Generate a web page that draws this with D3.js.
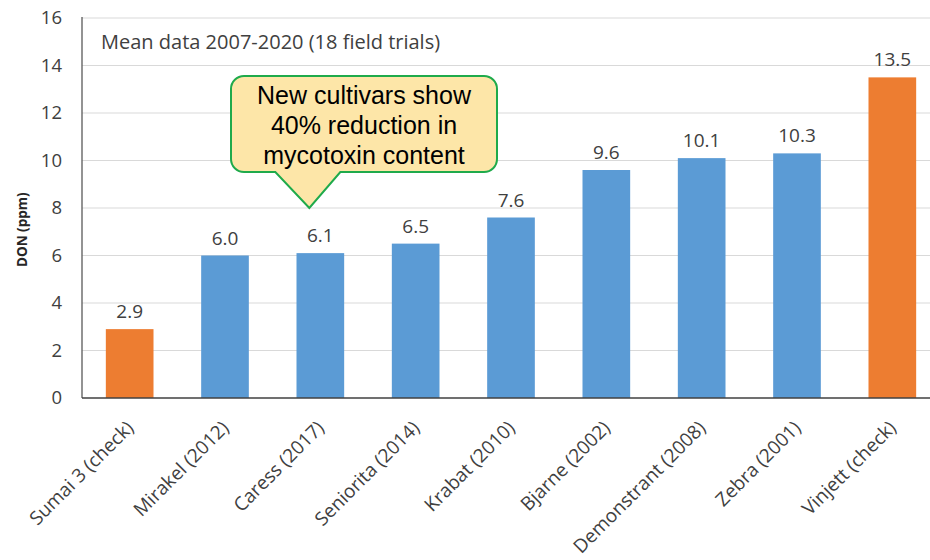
<!DOCTYPE html>
<html>
<head>
<meta charset="utf-8">
<script src="https://cdn.jsdelivr.net/npm/d3@7"></script>
<style>
  html, body { margin: 0; padding: 0; background: #fff; }
  svg { display: block; }
</style>
</head>
<body>
<svg id="chart" width="930" height="560"></svg>
<script>
// Cultivars and mean DON content (ppm), field trials 2007-2020
const cultivars = [
  "Sumai 3 (check)", "Mirakel (2012)", "Caress (2017)", "Seniorita (2014)",
  "Krabat (2010)", "Bjarne (2002)", "Demonstrant (2008)", "Zebra (2001)", "Vinjett (check)"
];
const donValues = [2.9, 6.0, 6.1, 6.5, 7.6, 9.6, 10.1, 10.3, 13.5];
const isCheck = [true, false, false, false, false, false, false, false, true];
const yTicks = [0, 2, 4, 6, 8, 10, 12, 14, 16];
const noteText = "Mean data 2007-2020 (18 field trials)";
const calloutLines = ["New cultivars show", "40% reduction in", "mycotoxin content"];

const data = cultivars.map((c, i) => ({ name: c, value: donValues[i], check: isCheck[i] }));

const svg = d3.select("#chart");
const W = 930, H = 560;
const plot = { left: 82, right: 940, top: 18, bottom: 398 };
const FONT = "'Open Sans', 'DejaVu Sans', sans-serif";
const TEXT = "#404040";

const x = d3.scaleBand()
  .domain(cultivars)
  .range([plot.left, plot.right])
  .paddingInner(0.5)
  .paddingOuter(0.25);

const y = d3.scaleLinear().domain([0, 16]).range([plot.bottom, plot.top]);

// horizontal gridlines
svg.append("g")
  .selectAll("line")
  .data(yTicks.filter(t => t > 0))
  .join("line")
  .attr("x1", plot.left).attr("x2", W)
  .attr("y1", d => y(d)).attr("y2", d => y(d))
  .attr("stroke", "#d9d9d9").attr("stroke-width", 1);

// y axis tick labels
const yAxis = d3.axisLeft(y).tickValues(yTicks).tickSize(0).tickPadding(20).tickFormat(d3.format("d"));
const gy = svg.append("g").attr("transform", `translate(${plot.left},0)`).call(yAxis);
gy.select(".domain").remove();
gy.selectAll("text")
  .attr("font-family", FONT).attr("font-size", 18.5).attr("fill", TEXT);

// y axis title
svg.append("text")
  .attr("transform", `translate(27,${(y(6) + y(8)) / 2 - 2}) rotate(-90)`)
  .attr("text-anchor", "middle")
  .attr("font-family", FONT).attr("font-size", 13.5).attr("font-weight", "bold")
  .attr("fill", "#262626")
  .text("DON (ppm)");

// bars
svg.append("g")
  .selectAll("rect")
  .data(data)
  .join("rect")
  .attr("x", d => x(d.name))
  .attr("width", x.bandwidth())
  .attr("y", d => y(d.value))
  .attr("height", d => y(0) - y(d.value))
  .attr("fill", d => d.check ? "#ed7d31" : "#5b9bd5");

// value labels
svg.append("g")
  .selectAll("text")
  .data(data)
  .join("text")
  .attr("x", d => x(d.name) + x.bandwidth() / 2)
  .attr("y", d => y(d.value) - 11)
  .attr("text-anchor", "middle")
  .attr("font-family", FONT).attr("font-size", 19).attr("fill", TEXT)
  .text(d => d.value.toFixed(1));

// axis lines
svg.append("line")
  .attr("x1", plot.left).attr("x2", plot.left)
  .attr("y1", plot.top - 1).attr("y2", plot.bottom)
  .attr("stroke", "#595959").attr("stroke-width", 1.3);
svg.append("line")
  .attr("x1", plot.left).attr("x2", W)
  .attr("y1", plot.bottom).attr("y2", plot.bottom)
  .attr("stroke", "#404040").attr("stroke-width", 1.5);

// rotated category labels
svg.append("g")
  .selectAll("text")
  .data(cultivars)
  .join("text")
  .attr("transform", d => `translate(${x(d) + x.bandwidth() / 2 + 5},${plot.bottom + 31}) rotate(-45)`)
  .attr("text-anchor", "end")
  .attr("font-family", FONT).attr("font-size", 19).attr("fill", TEXT)
  .text(d => d);

// note inside plot
svg.append("text")
  .attr("x", 101).attr("y", 49)
  .attr("font-family", FONT).attr("font-size", 20).attr("fill", TEXT)
  .text(noteText);

// callout pointing at the new cultivars
const box = { x0: 231, x1: 497, y0: 76, y1: 172, r: 13 };
const tipX = x("Caress (2017)") + x.bandwidth() / 2 - 11;
const tipY = y(8);
const p = d3.path();
p.moveTo(box.x0 + box.r, box.y0);
p.lineTo(box.x1 - box.r, box.y0);
p.arcTo(box.x1, box.y0, box.x1, box.y0 + box.r, box.r);
p.lineTo(box.x1, box.y1 - box.r);
p.arcTo(box.x1, box.y1, box.x1 - box.r, box.y1, box.r);
p.lineTo(tipX + 31, box.y1);
p.lineTo(tipX, tipY);
p.lineTo(tipX - 34, box.y1);
p.lineTo(box.x0 + box.r, box.y1);
p.arcTo(box.x0, box.y1, box.x0, box.y1 - box.r, box.r);
p.lineTo(box.x0, box.y0 + box.r);
p.arcTo(box.x0, box.y0, box.x0 + box.r, box.y0, box.r);
p.closePath();
svg.append("path")
  .attr("d", p.toString())
  .attr("fill", "#fde6a8")
  .attr("stroke", "#1faa4b")
  .attr("stroke-width", 2)
  .attr("stroke-linejoin", "miter");

svg.append("g")
  .selectAll("text")
  .data(calloutLines)
  .join("text")
  .attr("x", (box.x0 + box.x1) / 2)
  .attr("y", (d, i) => 104 + i * 30)
  .attr("text-anchor", "middle")
  .attr("font-family", "'Liberation Sans', Arial, sans-serif")
  .attr("font-size", 25)
  .attr("fill", "#000")
  .text(d => d);
</script>
</body>
</html>
